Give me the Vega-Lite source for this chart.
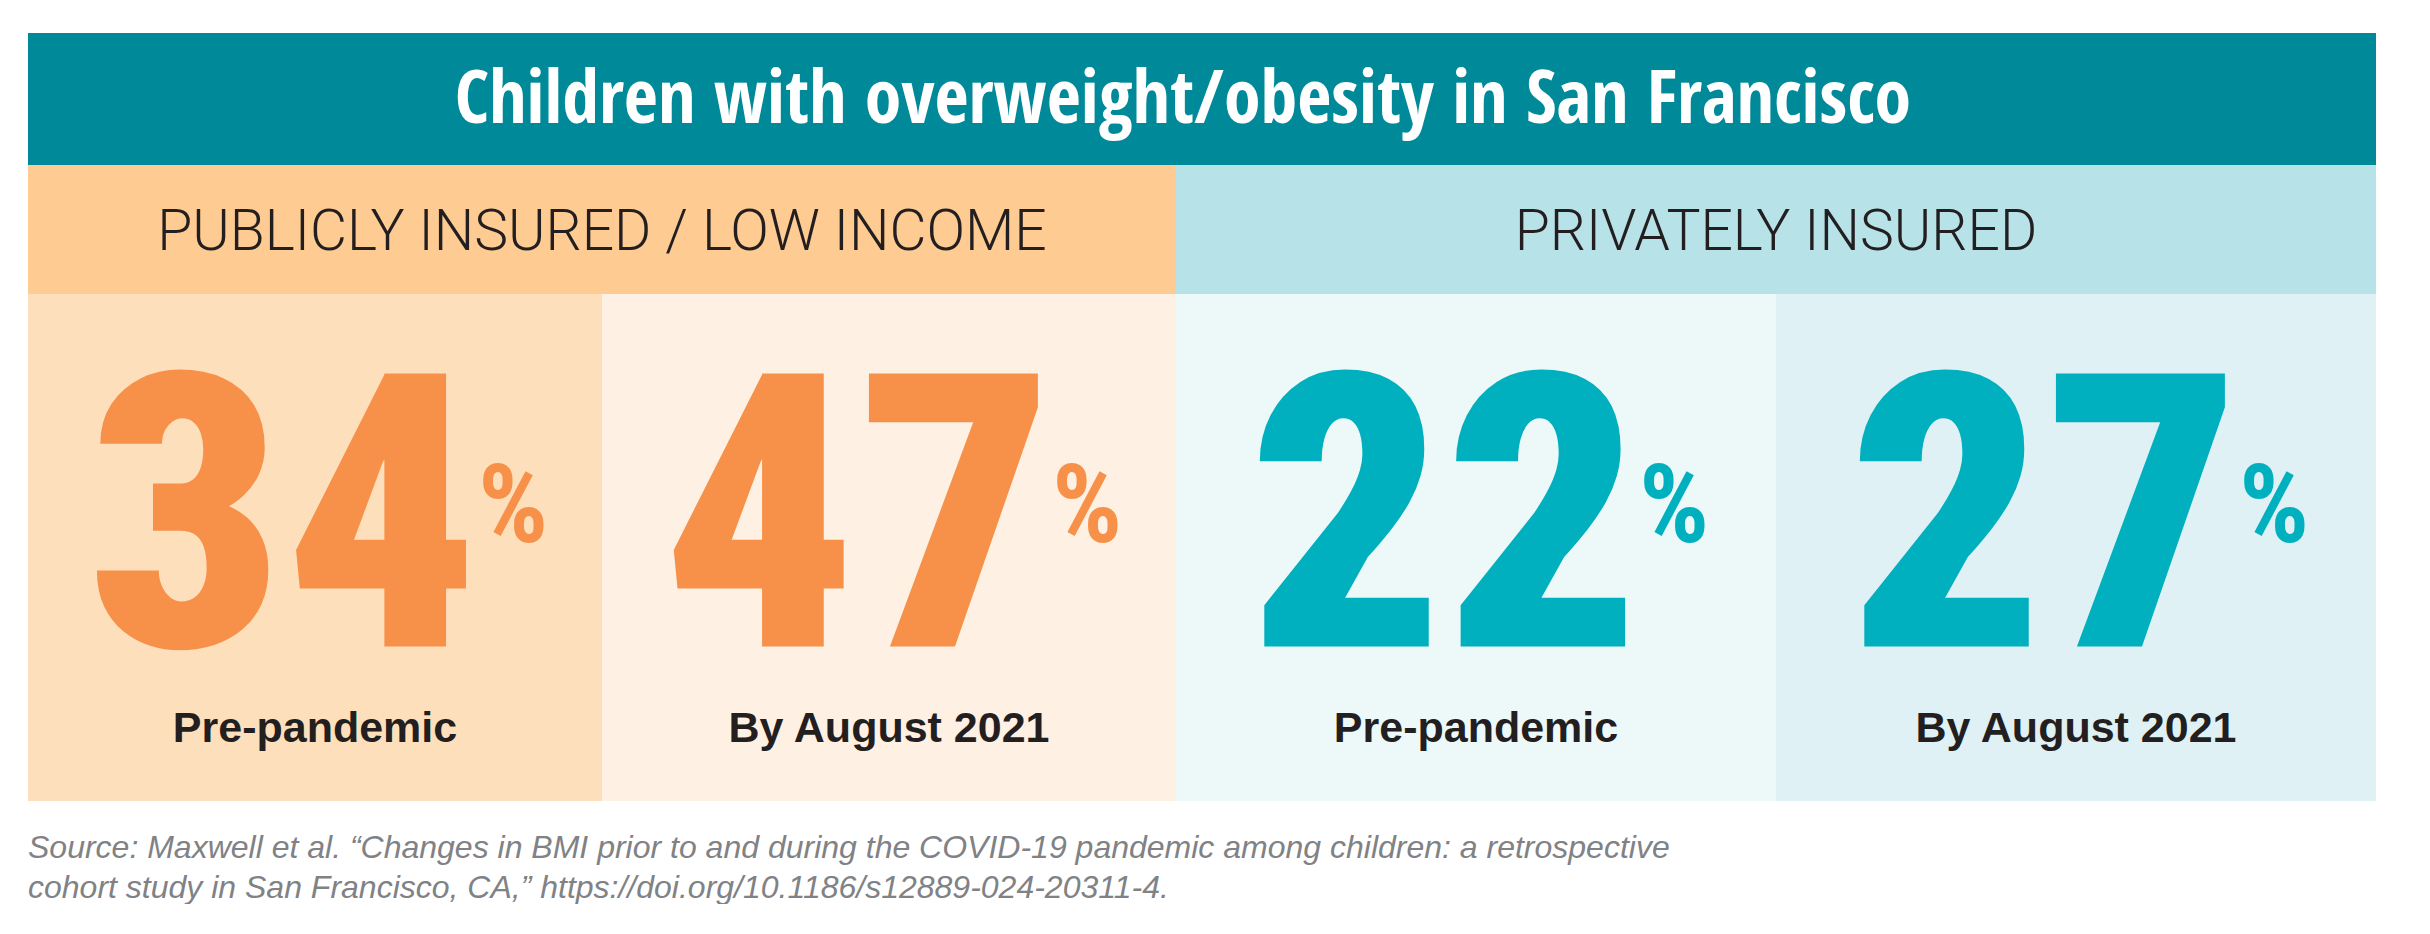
{
  "$schema": "https://vega.github.io/schema/vega-lite/v6.json",
  "padding": {"left": 28, "top": 33, "right": 0, "bottom": 0},
  "background": "white",
  "config": {"view": {"stroke": null}, "concat": {"spacing": 0}},
  "datasets": {
    "title": [{"text": "Children with overweight/obesity in San Francisco"}],
    "groups": [
      {"key": "public", "group": "PUBLICLY INSURED / LOW INCOME"},
      {"key": "private", "group": "PRIVATELY INSURED"}
    ],
    "stats": [
      {"key": "public", "period": "Pre-pandemic", "value": 34},
      {"key": "public", "period": "By August 2021", "value": 47},
      {"key": "private", "period": "Pre-pandemic", "value": 22},
      {"key": "private", "period": "By August 2021", "value": 27}
    ]
  },
  "title": {
    "text": ["Source: Maxwell et al. \u201cChanges in BMI prior to and during the COVID-19 pandemic among children: a retrospective", "cohort study in San Francisco, CA,\u201d https://doi.org/10.1186/s12889-024-20311-4."],
    "orient": "bottom", "anchor": "start", "font": "Liberation Sans", "fontSize": 32, "fontStyle": "italic", "fontWeight": "normal", "color": "#808285", "lineHeight": 40, "offset": 32
  },
  "spacing": 0,
  "vconcat": [
    {
      "data": {"name": "title"},
      "width": 2348, "height": 132,
      "view": {"fill": "#008A99", "stroke": null},
      "mark": {"type": "text", "font": "Open Sans Condensed", "fontWeight": "bold", "fontSize": 74, "color": "white", "baseline": "alphabetic", "dy": 24, "dx": -19},
      "encoding": {"text": {"field": "text", "type": "nominal"}}
    },
    {
      "spacing": 0,
      "resolve": {"scale": {"color": "independent"}},
      "hconcat": [
        {
          "spacing": 0,
          "vconcat": [
            {
              "data": {"name": "groups"},
              "transform": [{"filter": "datum.key === 'public'"}],
              "width": 1148, "height": 129,
              "view": {"fill": "#FECC93", "stroke": null},
              "mark": {"type": "text", "font": "Roboto", "fontWeight": 300, "fontSize": 57, "color": "#231F20", "baseline": "alphabetic", "dy": 20},
              "encoding": {"text": {"field": "group", "type": "nominal"}}
            },
            {
              "data": {"name": "stats"},
              "transform": [{"filter": "datum.key === 'public'"}],
              "width": 1148, "height": 507,
              "encoding": {"x": {"field": "period", "type": "nominal", "sort": ["Pre-pandemic", "By August 2021"], "axis": null, "scale": {"paddingInner": 0, "paddingOuter": 0}}},
              "layer": [
                {"mark": {"type": "rect"}, "encoding": {"color": {"field": "period", "type": "nominal", "scale": {"domain": ["Pre-pandemic", "By August 2021"], "range": ["#FEDFBC", "#FEF0E2"]}, "legend": null}}},
                {"mark": {"type": "text", "align": "right", "baseline": "alphabetic", "dx": 165, "dy": 99, "font": "Roboto Condensed", "fontWeight": 900, "fontSize": 384, "color": "#F79149"}, "encoding": {"text": {"field": "value", "type": "quantitative", "format": "d"}}},
                {"mark": {"type": "text", "text": "%", "align": "left", "baseline": "alphabetic", "dx": 163, "dy": -6, "font": "Roboto Condensed", "fontWeight": "bold", "fontSize": 110, "color": "#F79149"}, "encoding": {}},
                {"mark": {"type": "text", "align": "center", "baseline": "alphabetic", "dy": 194, "font": "Liberation Sans", "fontWeight": "bold", "fontSize": 43, "color": "#231F20"}, "encoding": {"text": {"field": "period", "type": "nominal"}}}
              ]
            }
          ]
        },
        {
          "spacing": 0,
          "vconcat": [
            {
              "data": {"name": "groups"},
              "transform": [{"filter": "datum.key === 'private'"}],
              "width": 1200, "height": 129,
              "view": {"fill": "#B7E2E8", "stroke": null},
              "mark": {"type": "text", "font": "Roboto", "fontWeight": 300, "fontSize": 57, "color": "#231F20", "baseline": "alphabetic", "dy": 20},
              "encoding": {"text": {"field": "group", "type": "nominal"}}
            },
            {
              "data": {"name": "stats"},
              "transform": [{"filter": "datum.key === 'private'"}],
              "width": 1200, "height": 507,
              "encoding": {"x": {"field": "period", "type": "nominal", "sort": ["Pre-pandemic", "By August 2021"], "axis": null, "scale": {"paddingInner": 0, "paddingOuter": 0}}},
              "layer": [
                {"mark": {"type": "rect"}, "encoding": {"color": {"field": "period", "type": "nominal", "scale": {"domain": ["Pre-pandemic", "By August 2021"], "range": ["#EDF8F9", "#DFF1F4"]}, "legend": null}}},
                {"mark": {"type": "text", "align": "right", "baseline": "alphabetic", "dx": 165, "dy": 99, "font": "Roboto Condensed", "fontWeight": 900, "fontSize": 384, "color": "#00B0BE"}, "encoding": {"text": {"field": "value", "type": "quantitative", "format": "d"}}},
                {"mark": {"type": "text", "text": "%", "align": "left", "baseline": "alphabetic", "dx": 163, "dy": -6, "font": "Roboto Condensed", "fontWeight": "bold", "fontSize": 110, "color": "#00B0BE"}, "encoding": {}},
                {"mark": {"type": "text", "align": "center", "baseline": "alphabetic", "dy": 194, "font": "Liberation Sans", "fontWeight": "bold", "fontSize": 43, "color": "#231F20"}, "encoding": {"text": {"field": "period", "type": "nominal"}}}
              ]
            }
          ]
        }
      ]
    }
  ]
}
